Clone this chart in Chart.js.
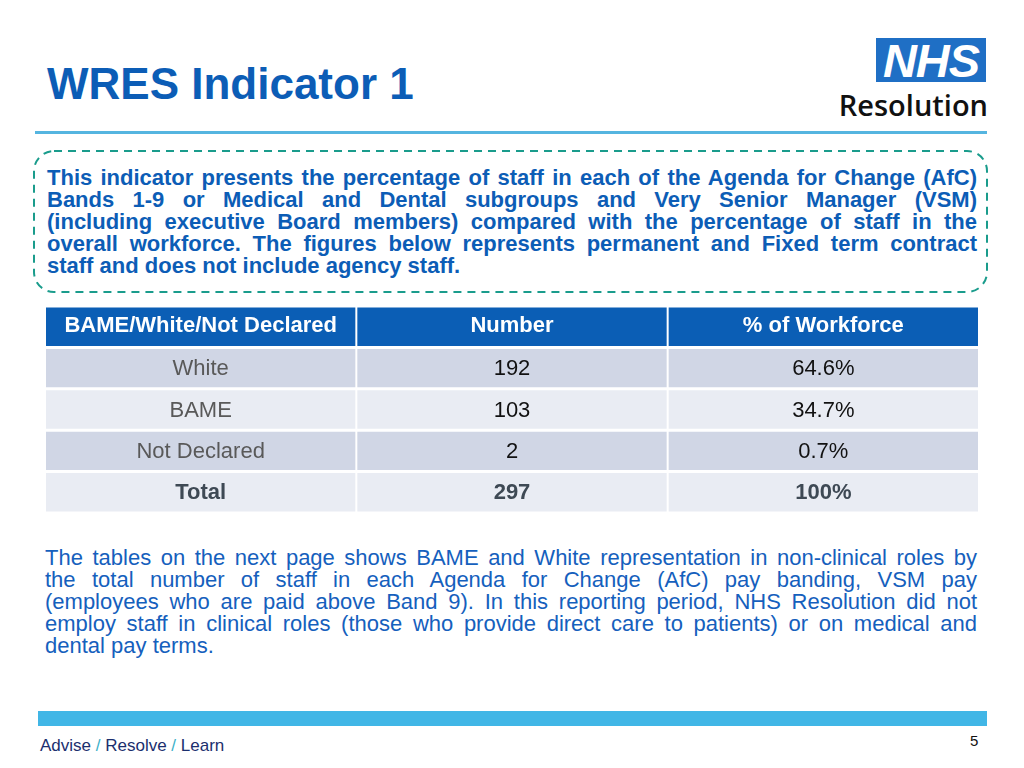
<!DOCTYPE html>
<html>
<head>
<meta charset="utf-8">
<script src="https://cdn.jsdelivr.net/npm/chart.js@4"></script>
<style>
  body { margin: 0; background: #fff; }
  #slide { position: relative; width: 1024px; height: 768px; overflow: hidden; font-family: "Liberation Sans", Arial, sans-serif; }
  .abs { position: absolute; }
  #title { left: 47px; top: 58px; font-size: 44px; font-weight: bold; color: #0C5DB6; line-height: 52px; }
  #rule { left: 35px; top: 131px; width: 952px; height: 3px; background: #55B5E0; }
  #nhs { left: 876px; top: 38px; width: 110px; height: 44px; background: #1F6FC5; color: #fff;
         font-weight: bold; font-style: italic; font-size: 47px; line-height: 46px; text-align: center; letter-spacing: -1px; }
  #resol { right: 36px; top: 86px; font-family: "Open Sans", sans-serif; font-weight: 600; font-size: 29px; line-height: 38px; color: #111; }
  .para div { white-space: nowrap; text-align: justify; text-align-last: justify; }
  .para div.last { text-align-last: left; }
  #intro { left: 47px; top: 167px; width: 930px; font-size: 22px; line-height: 22px; font-weight: bold; color: #0C5DB6; }
  #note { left: 45px; top: 547px; width: 932px; font-size: 22px; line-height: 22px; color: #1560BD; }
  #tableBox { left: 45px; top: 306px; width: 934px; height: 207px; }
  #footbar { left: 38px; top: 711px; width: 949px; height: 15px; background: #41B6E6; }
  #foot { left: 40px; top: 736px; font-size: 17px; color: #1B2F6E; }
  #foot span { color: #3BB0C9; }
  #page { left: 970px; top: 732px; font-size: 15px; color: #111; }
</style>
</head>
<body>
<div id="slide">
  <div id="title" class="abs">WRES Indicator 1</div>
  <div id="nhs" class="abs">NHS</div>
  <div id="resol" class="abs">Resolution</div>
  <div id="rule" class="abs"></div>

  <svg class="abs" style="left:0;top:0" width="1024" height="768">
    <rect x="34" y="151" width="953" height="141" rx="20" ry="20" fill="none"
          stroke="#1A9C8C" stroke-width="2" stroke-dasharray="8 6"/>
  </svg>

  <div id="intro" class="abs para">
    <div>This indicator presents the percentage of staff in each of the Agenda for Change (AfC)</div>
    <div>Bands 1-9 or Medical and Dental subgroups and Very Senior Manager (VSM)</div>
    <div>(including executive Board members) compared with the percentage of staff in the</div>
    <div>overall workforce. The figures below represents permanent and Fixed term contract</div>
    <div class="last">staff and does not include agency staff.</div>
  </div>

  <div id="tableBox" class="abs"><canvas id="tableChart"></canvas></div>

  <div id="note" class="abs para">
    <div>The tables on the next page shows BAME and White representation in non-clinical roles by</div>
    <div>the total number of staff in each Agenda for Change (AfC) pay banding, VSM pay</div>
    <div>(employees who are paid above Band 9). In this reporting period, NHS Resolution did not</div>
    <div>employ staff in clinical roles (those who provide direct care to patients) or on medical and</div>
    <div class="last">dental pay terms.</div>
  </div>

  <div id="footbar" class="abs"></div>
  <div id="foot" class="abs">Advise <span>/</span> Resolve <span>/</span> Learn</div>
  <div id="page" class="abs">5</div>
</div>

<script>
// table data
var columns = ["BAME/White/Not Declared", "Number", "% of Workforce"];
var groups = ["White", "BAME", "Not Declared", "Total"];
var staffNumbers = [192, 103, 2, 297];
var workforcePct = [64.6, 34.7, 0.7, 100];

// rows: header first, then one row per group
var rows = ["header"].concat(groups);
var rowColors = ["#0B5EB5", "#D0D6E5", "#E9ECF3", "#D0D6E5", "#E9ECF3"];

function cellText(col, row) {
    if (row === 0) return columns[col];
    var g = row - 1;
    if (col === 0) return groups[g];
    if (col === 1) return String(staffNumbers[g]);
    return workforcePct[g] + "%";
}

// draws the text of every cell in the middle of its bar
var cellLabels = {
    id: "cellLabels",
    afterDatasetsDraw: function (chart) {
        var ctx = chart.ctx;
        ctx.save();
        ctx.textAlign = "center";
        ctx.textBaseline = "middle";
        chart.data.datasets.forEach(function (ds, i) {
            chart.getDatasetMeta(i).data.forEach(function (bar, j) {
                var p = bar.getProps(["x", "y", "base"], true);
                var isHead = j === 0;
                var isTotal = j === rows.length - 1;
                ctx.font = (isHead || isTotal ? "bold " : "") + "22px 'Liberation Sans', Arial, sans-serif";
                if (isHead) ctx.fillStyle = "#ffffff";
                else if (isTotal) ctx.fillStyle = "#3E4954";
                else if (i === 0) ctx.fillStyle = "#595959";
                else ctx.fillStyle = "#111111";
                ctx.fillText(cellText(i, j), (p.x + p.base) / 2, p.y + (isHead ? -1 : 1));
            });
        });
        ctx.restore();
    }
};

var datasets = columns.map(function (c) {
    return {
        label: c,
        data: rows.map(function () { return 1; }),
        backgroundColor: rowColors,
        borderColor: "#ffffff",
        borderWidth: { top: 1.5, bottom: 1.5, left: 1, right: 1 },
        borderSkipped: false,
        inflateAmount: 0,
        categoryPercentage: 1,
        barPercentage: 1
    };
});

var ctx = document.getElementById("tableChart").getContext("2d");
var tableChart = new Chart(ctx, {
    type: "bar",
    data: { labels: rows, datasets: datasets },
    options: {
        indexAxis: "y",
        responsive: true,
        maintainAspectRatio: false,
        animation: false,
        layout: { padding: 0 },
        scales: {
            x: { stacked: true, min: 0, max: columns.length, display: false },
            y: { stacked: true, display: false }
        },
        plugins: { legend: { display: false }, tooltip: { enabled: false } }
    },
    plugins: [cellLabels]
});
</script>
</body>
</html>
